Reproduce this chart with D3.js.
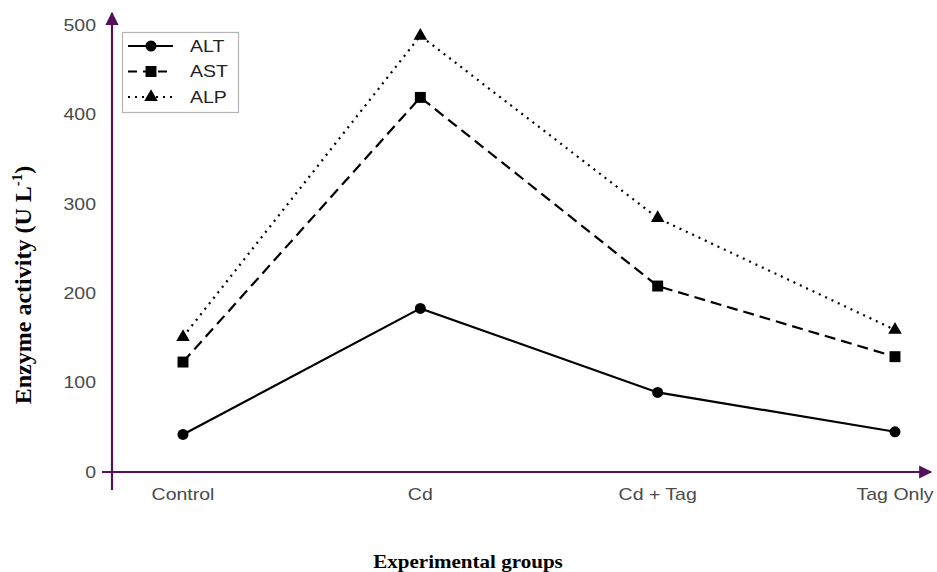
<!doctype html>
<html>
<head>
  <meta charset="utf-8">
  <title>Enzyme activity</title>
  <script src="https://d3js.org/d3.v7.min.js"></script>
  <style>
    body { margin: 0; background: #fff; }
  </style>
</head>
<body>
  <div id="chart"></div>
  <script>
    // data
    var groups = ["Control", "Cd", "Cd + Tag", "Tag Only"];
    var alt = [42, 183, 89, 45];
    var ast = [123, 419, 208, 129];
    var alp = [151, 488, 284, 159];
    var yTicks = [0, 100, 200, 300, 400, 500];

    var series = [
      { name: "ALT", values: alt, dash: null, legendDash: null, marker: d3.symbolCircle, size: 95 },
      { name: "AST", values: ast, dash: "11,6", legendDash: "9,6", marker: d3.symbolSquare, size: 120 },
      { name: "ALP", values: alp, dash: "2,5", legendDash: "2,5", marker: d3.symbolTriangle, size: 80 }
    ];

    var W = 937, H = 572;
    var axisColor = "#56105a";
    var sansFont = "16px 'Liberation Sans', Arial, sans-serif";
    var stretch = 1.22; // the figure's text is a bit wide

    var svg = d3.select("#chart").append("svg")
      .attr("width", W)
      .attr("height", H);

    var x = d3.scalePoint()
      .domain(groups)
      .range([183, 895]);

    var y = d3.scaleLinear()
      .domain([0, 500])
      .range([472, 25]);

    var defs = svg.append("defs");
    defs.append("marker")
      .attr("id", "arrow")
      .attr("viewBox", "0 0 10 10")
      .attr("refX", 9).attr("refY", 5)
      .attr("markerWidth", 6.5).attr("markerHeight", 6)
      .attr("markerUnits", "strokeWidth")
      .attr("orient", "auto")
      .append("path")
      .attr("d", "M0,0L10,5L0,10Z")
      .attr("fill", axisColor);

    // axes lines with arrow heads
    svg.append("line")
      .attr("x1", 102).attr("x2", 931)
      .attr("y1", y(0)).attr("y2", y(0))
      .attr("stroke", axisColor).attr("stroke-width", 2.2)
      .attr("marker-end", "url(#arrow)");
    svg.append("line")
      .attr("x1", 112).attr("x2", 112)
      .attr("y1", 490).attr("y2", 13)
      .attr("stroke", axisColor).attr("stroke-width", 2.2)
      .attr("marker-end", "url(#arrow)");

    // y tick labels
    svg.append("g").selectAll("text")
      .data(yTicks)
      .join("text")
      .attr("transform", function (d) { return "translate(96," + y(d) + ") scale(" + stretch + ",1)"; })
      .attr("dy", "0.36em")
      .attr("text-anchor", "end")
      .attr("fill", "#4a4a4a")
      .style("font", sansFont)
      .text(function (d) { return d; });

    // x tick labels
    svg.append("g").selectAll("text")
      .data(groups)
      .join("text")
      .attr("transform", function (d) { return "translate(" + x(d) + ",500) scale(" + stretch + ",1)"; })
      .attr("text-anchor", "middle")
      .attr("fill", "#4a4a4a")
      .style("font", sansFont)
      .text(function (d) { return d; });

    // axis titles
    svg.append("text")
      .attr("transform", "translate(468,568) scale(1.17,1)")
      .attr("text-anchor", "middle")
      .style("font", "bold 18px 'Liberation Serif', 'Times New Roman', serif")
      .text("Experimental groups");

    var yl = svg.append("text")
      .attr("transform", "translate(31,285) rotate(-90)")
      .attr("text-anchor", "middle")
      .style("font", "bold 24px 'Liberation Serif', 'Times New Roman', serif");
    yl.append("tspan").text("Enzyme activity (U L");
    yl.append("tspan").attr("dy", -9).style("font-size", "15px").text("-1");
    yl.append("tspan").attr("dy", 9).text(")");

    // lines
    var line = d3.line()
      .x(function (d, i) { return x(groups[i]); })
      .y(function (d) { return y(d); });

    series.forEach(function (s) {
      svg.append("path")
        .datum(s.values)
        .attr("fill", "none")
        .attr("stroke", "#000")
        .attr("stroke-width", 2.2)
        .attr("stroke-dasharray", s.dash)
        .attr("d", line);

      svg.append("g").selectAll("path")
        .data(s.values)
        .join("path")
        .attr("transform", function (d, i) {
          return "translate(" + x(groups[i]) + "," + y(d) + ")";
        })
        .attr("d", d3.symbol().type(s.marker).size(s.size))
        .attr("fill", "#000");
    });

    // legend
    var legend = svg.append("g").attr("transform", "translate(122,32)");
    legend.append("rect")
      .attr("x", 0.5).attr("y", 0.5)
      .attr("width", 116).attr("height", 80)
      .attr("fill", "#fff")
      .attr("stroke", "#b4b4b4")
      .attr("stroke-width", 1.2);

    series.forEach(function (s, i) {
      var ly = 14 + i * 25.5;
      legend.append("line")
        .attr("x1", 6).attr("x2", 51)
        .attr("y1", ly).attr("y2", ly)
        .attr("stroke", "#000")
        .attr("stroke-width", 2.2)
        .attr("stroke-dasharray", s.legendDash);
      legend.append("path")
        .attr("transform", "translate(29," + ly + ")")
        .attr("d", d3.symbol().type(s.marker).size(s.size))
        .attr("fill", "#000");
      legend.append("text")
        .attr("transform", "translate(68," + ly + ") scale(" + stretch + ",1)")
        .attr("dy", "0.36em")
        .attr("fill", "#222")
        .style("font", sansFont)
        .text(s.name);
    });
  </script>
</body>
</html>
